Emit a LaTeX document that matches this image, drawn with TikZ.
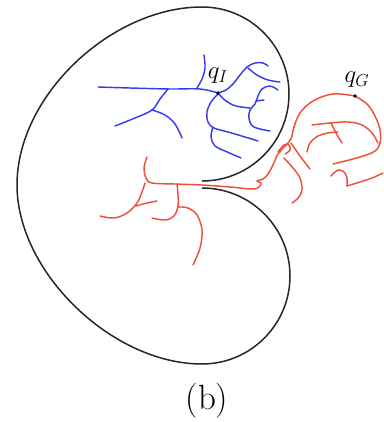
\documentclass[tikz,border=0pt]{standalone}
\definecolor{treeblue}{RGB}{55,60,235}
\definecolor{treered}{RGB}{240,78,58}
\begin{document}
\begin{tikzpicture}[x=1pt,y=-1pt,
  outline/.style={line width=1.5pt, black!85},
  btree/.style={line width=1.45pt, treeblue, line cap=round, line join=round},
  rtree/.style={line width=1.45pt, treered, line cap=round, line join=round},
  sm/.style={smooth, tension=0.6},
  lbl/.style={anchor=base, inner sep=0pt, font=\fontsize{23}{27}\selectfont}]
\useasboundingbox (0,0) rectangle (383,422);
% outline
\draw[outline] (202,181) arc[start angle=90, end angle=-90, radius=87]
   .. controls (112,7) and (17,95) .. (17,185)
   .. controls (17,272) and (112,364) .. (202,364)
   arc[start angle=90, end angle=-90, radius=88];
% blue tree
\coordinate (qI) at (218,93);
\draw[btree] plot[sm] coordinates {(218,93) (200,89) (170,89) (130,88) (98,87)};
\draw[btree] plot[sm] coordinates {(197,88) (202,79) (205,68) (204,55)};
\draw[btree] plot[sm] coordinates {(168,89) (160,99) (152,110) (135,118) (115,126)};
\draw[btree] plot[sm] coordinates {(152,110) (165,115) (175,124) (182,138)};
\draw[btree] plot[sm] coordinates {(218,93) (226,90) (233,84) (240,75) (247,67) (255,63) (263,63) (268,66)};
\draw[btree] plot[sm] coordinates {(248,68) (257,75) (268,80) (280,82)};
\draw[btree] plot[sm] coordinates {(218,93) (226,101) (236,106) (250,108)};
\draw[btree] plot[sm] coordinates {(278,90) (270,86) (262,89) (258,96) (255,104) (250,110) (249,119) (254,127) (270,131)};
\draw[btree] plot[sm] coordinates {(256,101) (264,100)};
\draw[btree] plot[sm] coordinates {(218,94) (211,102) (207,112) (208,122) (214,128) (228,132) (245,137) (258,141)};
\draw[btree] plot[sm] coordinates {(213,127) (211,137) (215,146) (225,151) (241,158)};
% red tree
\coordinate (qG) at (355,96);
\draw[rtree] plot[sm] coordinates {(147,157) (144,168) (146,178) (152,183) (175,184) (202,185) (230,187) (252,189) (259,187) (261,183) (257,181) (263,179) (268,174) (273,165) (278,154) (285,146) (291,139) (294,127) (300,113) (313,101) (333,94) (355,96)};
\draw[rtree] plot[sm] coordinates {(145,183) (142,192) (137,203) (127,213) (114,218) (100,216)};
\draw[rtree] plot[sm] coordinates {(136,206) (147,203) (157,201)};
\draw[rtree] plot[sm] coordinates {(177,184) (178,195) (178,206) (174,216) (165,220) (152,218)};
\draw[rtree] plot[sm] coordinates {(178,207) (188,208) (197,215) (202,230) (200,248) (193,265)};
\draw[rtree] plot[sm] coordinates {(355,96) (367,104) (375,116) (380,130) (380,143) (375,151) (360,157) (333,164)};
\draw[rtree] plot[sm] coordinates {(312,125) (330,123) (348,122) (362,125) (372,133) (378,143)};
\draw[rtree] plot[sm] coordinates {(331,123) (336,133) (342,143)};
\draw[rtree] plot[sm] coordinates {(307,152) (310,143) (318,136) (328,133) (338,132)};
\draw[rtree] plot[sm] coordinates {(291,143) (300,156) (310,169)};
\draw[rtree] plot[sm] coordinates {(278,152) (284,145) (289,145) (290,150) (285,154)};
\draw[rtree] plot[sm] coordinates {(284,158) (293,168) (300,178) (302,190) (298,198) (292,203)};
\draw[rtree] plot[sm] coordinates {(331,176) (338,170) (344,172) (347,178) (347,186)};
\draw[rtree] plot[sm] coordinates {(347,186) (360,182) (372,178) (383,173)};
% points and labels
\fill (qI) circle[radius=1.9];
\fill (qG) circle[radius=1.9];
\node[lbl] (lI) at (218,79) {$q_I$};
\node[lbl] (lG) at (357,83) {$q_G$};
\node[anchor=base, inner sep=0pt, font=\fontsize{35}{40}\selectfont] (cap) at (207,409) {(b)};
\end{tikzpicture}
\end{document}
